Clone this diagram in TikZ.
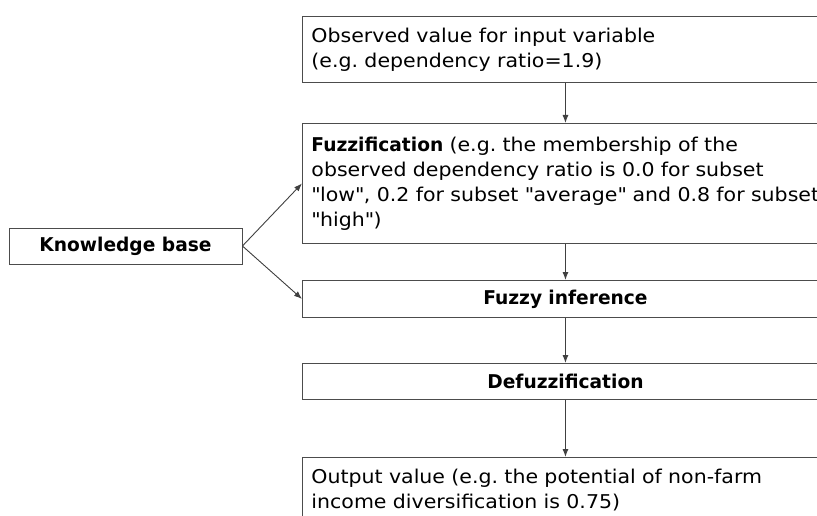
\documentclass[tikz,border=0pt]{standalone}
\usepackage{fontspec}
\setmainfont{DejaVu Sans}[FakeStretch=1.08]
\newfontfamily\headfont{DejaVu Sans}[FakeStretch=0.98]
\usetikzlibrary{arrows.meta}
\frenchspacing

\begin{document}
\begin{tikzpicture}[x=1pt,y=-1pt,
  box/.style={draw=black!70,line width=0.9pt,rectangle,inner xsep=9pt,inner ysep=0pt,
    minimum width=526pt,text width=508pt,align=left,font=\fontsize{19}{25}\selectfont},
  headbox/.style={box,minimum height=37pt,align=center,
    font=\headfont\bfseries\fontsize{19}{25}\selectfont},
  flow/.style={draw=black!75,line width=0.9pt,-{Latex[length=8pt,width=6pt]}}]
  \useasboundingbox (0,0) rectangle (817,516);

  % Knowledge base on the left
  \node[draw=black!70,line width=0.9pt,minimum width=233pt,minimum height=36pt,
    font=\headfont\bfseries\fontsize{19}{25}\selectfont] (kb) at (125.5,246) {Knowledge base};

  % Main column
  \node[box,anchor=north west,minimum height=66pt] (obs) at (302,16)
    {Observed value for input variable\\(e.g. dependency ratio=1.9)};
  \node[box,anchor=north west,minimum height=120pt] (fuzz) at (302,123)
    {{\headfont\bfseries Fuzzification} (e.g. the membership of the\\
     observed dependency ratio is 0.0 for subset\\
     \mbox{\textquotedbl low\textquotedbl, 0.2 for subset \textquotedbl average\textquotedbl{} and 0.8 for subset}\\
     \textquotedbl high\textquotedbl)};
  \node[headbox,anchor=north west] (infer) at (302,280) {Fuzzy inference};
  \node[headbox,anchor=north west,minimum height=36pt] (defuzz) at (302,363) {Defuzzification};
  \node[box,anchor=north west,minimum height=66pt] (out) at (302,457)
    {Output value (e.g. the potential of non-farm\\income diversification is 0.75)};

  % Arrows
  \draw[flow] (obs) -- (fuzz);
  \draw[flow] (fuzz) -- (infer);
  \draw[flow] (infer) -- (defuzz);
  \draw[flow] (defuzz) -- (out);
  \draw[flow] (kb.east) -- (fuzz.west);
  \draw[flow] (kb.east) -- (infer.west);
\end{tikzpicture}
\end{document}
